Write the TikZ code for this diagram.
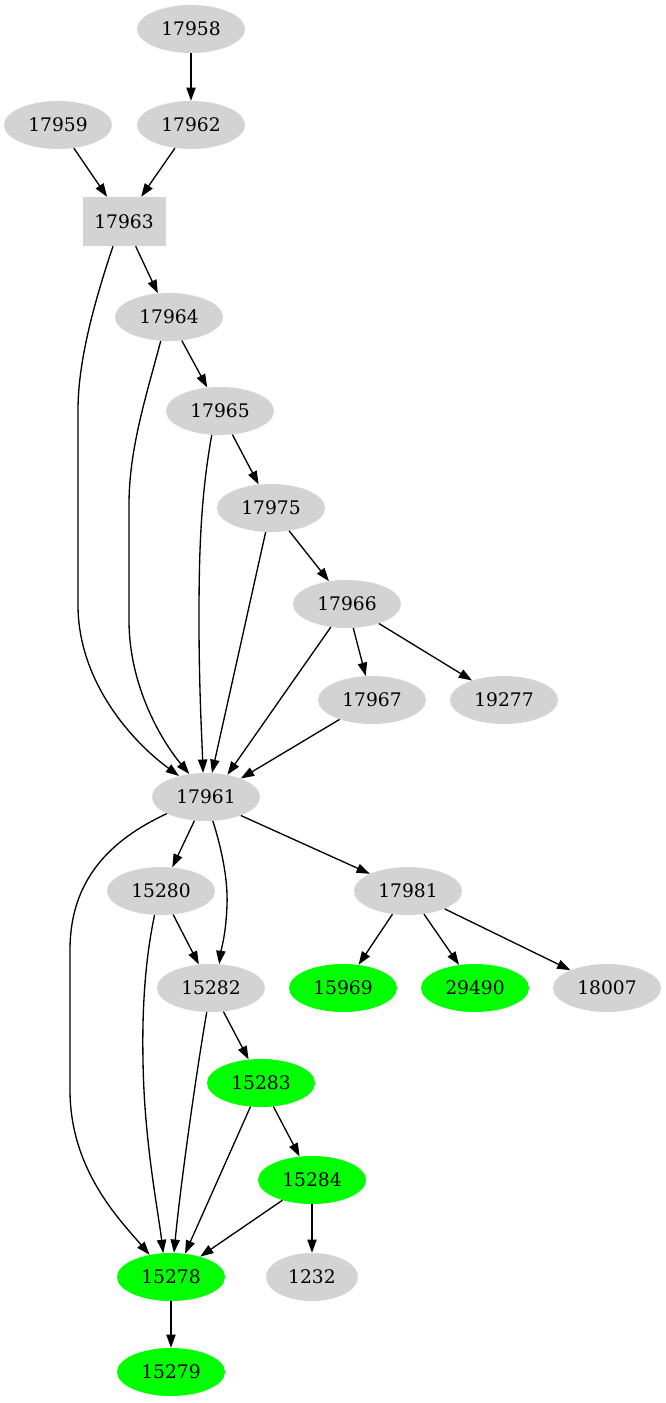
\documentclass[tikz,border=0pt]{standalone}
\usepackage{fontspec}
\setmainfont{DejaVu Serif}
\usetikzlibrary{shapes.geometric,arrows.meta}
\definecolor{lgray}{HTML}{D3D3D3}
\definecolor{vgreen}{HTML}{00FF00}
\tikzset{
  gnode/.style={ellipse,fill=lgray,draw=none,minimum width=108,minimum height=48,inner sep=0pt,font=\fontsize{18.67}{20}\selectfont},
  grn/.style={gnode,fill=vgreen},
  boxnode/.style={rectangle,fill=lgray,draw=none,minimum width=83,minimum height=49,inner sep=0pt,font=\fontsize{18.67}{20}\selectfont},
  edge/.style={line width=1.33pt,-{Triangle[length=13.3pt,width=9.3pt]}}
}
\begin{document}
\begin{tikzpicture}[x=1pt,y=-1pt]
\useasboundingbox (0,0) rectangle (666,1403);
\node[gnode] (n17958) at (191,29) {17958};
\node[gnode] (n17959) at (58,125) {17959};
\node[gnode] (n17962) at (191,125) {17962};
\node[boxnode] (n17963) at (124,221.5) {17963};
\node[gnode] (n17964) at (169,317) {17964};
\node[gnode] (n17965) at (220,411) {17965};
\node[gnode] (n17975) at (271,508) {17975};
\node[gnode] (n17966) at (347,604) {17966};
\node[gnode] (n17967) at (372,700) {17967};
\node[gnode] (n19277) at (504,700) {19277};
\node[gnode] (n17961) at (206,797) {17961};
\node[gnode] (n15280) at (161,891) {15280};
\node[gnode] (n17981) at (408,891) {17981};
\node[gnode] (n15282) at (211,988) {15282};
\node[grn] (n15969) at (343,988) {15969};
\node[grn] (n29490) at (475,988) {29490};
\node[gnode] (n18007) at (607,988) {18007};
\node[grn] (n15283) at (261,1083) {15283};
\node[grn] (n15284) at (312,1180) {15284};
\node[grn] (n15278) at (171,1277) {15278};
\node[gnode,minimum width=92] (n1232) at (312,1277) {1232};
\node[grn] (n15279) at (171,1372) {15279};

\draw[edge] (n17958) -- (n17962);
\draw[edge] (n17959) -- (n17963);
\draw[edge] (n17962) -- (n17963);
\draw[edge] (n17963) -- (n17964);
\draw[edge] (n17964) -- (n17965);
\draw[edge] (n17965) -- (n17975);
\draw[edge] (n17975) -- (n17966);
\draw[edge] (n17966) -- (n17967);
\draw[edge] (n17966) -- (n19277);

\draw[edge] (n17963.246) .. controls (95,300) and (78,360) .. (78,410) -- (78,605) .. controls (78,680) and (130,740) .. (n17961.142);
\draw[edge] (n17964.251) .. controls (145,400) and (129,450) .. (129,505) -- (129,620) .. controls (129,690) and (165,745) .. (n17961.126);
\draw[edge] (n17965.251) .. controls (200,500) and (199,560) .. (199,620) .. controls (199,690) and (202,740) .. (n17961.97);
\draw[edge] (n17975) -- (n17961.76);
\draw[edge] (n17966) -- (n17961.46);
\draw[edge] (n17967) -- (n17961.28);

\draw[edge] (n17961.244) -- (n15280);
\draw[edge] (n17961.286) .. controls (222,850) and (228,880) .. (227,905) .. controls (226,935) and (221,950) .. (n15282.71);
\draw[edge] (n17961.332) -- (n17981);
\draw[edge] (n17961.203) .. controls (110,840) and (70,880) .. (70,950) -- (70,1090) .. controls (70,1170) and (120,1220) .. (n15278.134);

\draw[edge] (n15280) -- (n15282);
\draw[edge] (n15280.255) .. controls (145,960) and (142,1010) .. (143,1060) .. controls (144,1140) and (158,1210) .. (n15278.108);
\draw[edge] (n15282) -- (n15283);
\draw[edge] (n15282.260) .. controls (195,1080) and (180,1190) .. (n15278.83);
\draw[edge] (n15283) -- (n15284);
\draw[edge] (n15283) -- (n15278.59);
\draw[edge] (n15284) -- (n15278.35);
\draw[edge] (n15284) -- (n1232);
\draw[edge] (n15278) -- (n15279);

\draw[edge] (n17981) -- (n15969);
\draw[edge] (n17981) -- (n29490);
\draw[edge] (n17981) -- (n18007);
\end{tikzpicture}
\end{document}
